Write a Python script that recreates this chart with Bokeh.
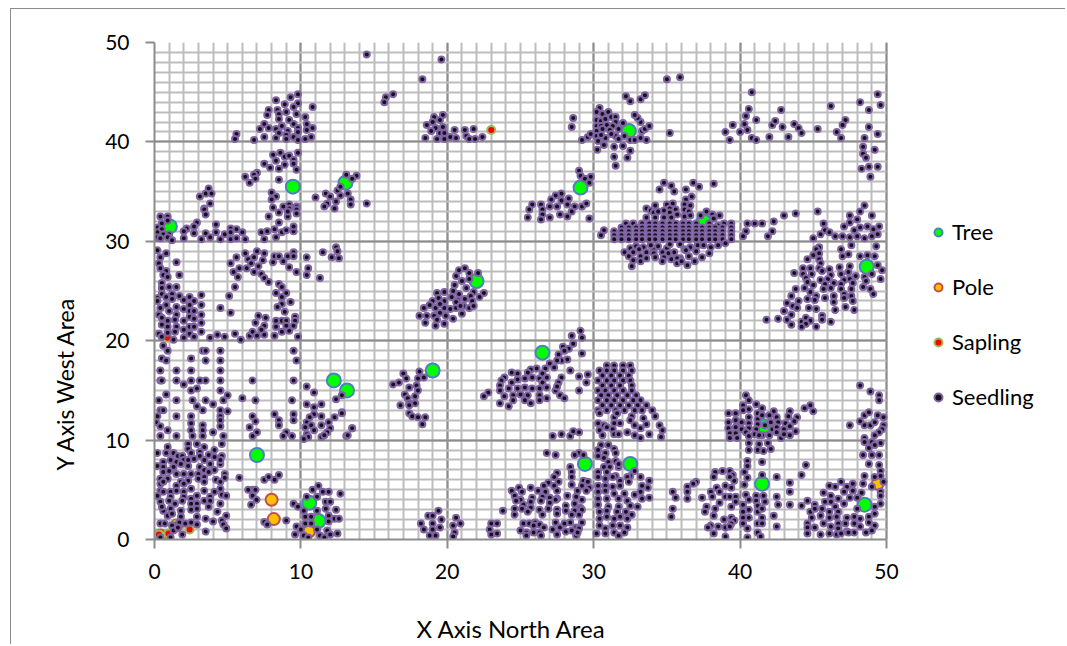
from bokeh.plotting import figure
from bokeh.models import FixedTicker, Legend, LegendItem, Title
from bokeh.embed import file_html
from bokeh.resources import INLINE

x_ticks = [0, 10, 20, 30, 40, 50]
y_ticks = [0, 10, 20, 30, 40, 50]
x_label = "X Axis North Area"
y_label = "Y  Axis West Area"

tree_x = [1.05, 9.45, 13.05, 7.0, 10.57, 11.2, 12.25, 13.15, 19.0, 22.0, 26.5, 29.1, 32.4, 37.5, 29.4, 32.5, 41.6, 41.5, 48.5, 48.65]
tree_y = [31.5, 35.5, 35.9, 8.5, 3.7, 1.85, 16.0, 15.0, 17.0, 26.0, 18.8, 35.4, 41.1, 32.0, 7.6, 7.6, 11.4, 5.6, 3.5, 27.45]
pole_x = [8.0, 8.15, 10.55, 49.4, 0.4, 1.5]
pole_y = [4.0, 2.05, 0.8, 5.6, 0.4, 1.4]
sapling_x = [23.0, 0.9, 2.4, 0.95, 0.3, 1.5]
sapling_y = [41.2, 20.3, 1.0, 0.6, 0.5, 1.5]

seed_nw_top = [(14.5,48.8),(15.8,44.5),(15.7,44.0),(16.3,44.8),(18.3,46.3),(19.6,48.3),
(9.8,44.8),(9.3,44.5),(8.3,44.2),(8.9,43.8),(9.8,43.9),(9.5,43.5),(10.8,43.5),(7.8,43.2),(8.4,43.2),(8.5,42.8),(7.7,42.7),(9.0,43.0),(9.7,42.8),(10.3,42.5),(8.5,42.3),(9.2,42.2),(9.5,41.8),(10.4,41.8),(7.5,41.8),(7.8,41.4),(8.7,41.6),(9.8,41.4),(10.8,41.4),(7.2,41.3),(8.3,41.3),(9.1,41.1),(10.4,41.2),(8.5,40.9),(9.8,41.0),(5.6,40.8),(5.5,40.3),(6.8,40.2),(7.5,40.5),(8.3,40.4),(9.0,40.7),(9.0,40.3),(9.5,40.5),(9.8,40.2),(10.3,40.3),(10.7,40.5),
(9.8,38.9),(8.6,38.9),(8.1,38.7),(8.9,38.5),(9.2,38.6),(9.5,38.2),(8.3,38.1),(7.5,37.8),(8.9,37.7),(9.5,37.8),(7.9,37.4),(8.5,37.3),(9.7,37.2),(7.0,36.9),(6.8,36.7),(6.2,36.5),(6.9,36.3),(6.5,35.9),(8.5,36.2),(8.0,34.9),(8.3,34.5),(8.0,34.2),(8.1,33.4),(8.8,33.5),(9.2,33.7),(9.2,33.3),(9.7,33.5),
(3.7,35.3),(3.5,34.8),(3.9,34.8),(3.1,34.5),(3.8,33.8),(3.4,33.3),
(11.0,34.4),(11.7,34.8),(12.0,34.5),(11.8,33.8),(11.6,33.5),(12.4,34.0),(12.7,34.6),(12.5,35.1),(12.7,35.5),(13.2,34.8),(13.4,34.2),(13.4,33.7),(12.3,33.3),(14.5,33.8),(13.1,36.7),(13.8,36.6),(13.5,36.3)]

seed_w_30 = [(.4,32.5),(.9,32.5),(.9,32.1),(.5,31.8),(.2,31.4),(.5,31.2),(.2,30.9),(.6,30.7),(1,30.7),(.2,30.4),(.4,30.3),(.9,30.4),(1.2,30.1),
(3.4,33.2),(3.5,32.7),(2.9,31.9),(2.7,31.5),(4.2,31.7),(2.2,31.3),(2.0,31),(2.0,30.3),(2.7,30.8),(3.5,30.8),(3.2,30.2),(3.8,30.4),(4.2,30.9),(4.5,30.2),(4.8,30.7),(5.2,31.3),(5.2,30.9),(5.2,30.2),(5.6,31.2),(5.6,30.3),(6.0,30.9),(6.2,30.2),(7.3,30.9),(7.7,31),(7.5,30.2),(8.2,31.2),(8.3,30.4),(8.7,30.9),(9,31.1),(9.5,31),(9.5,31.5),(8.5,31.9),(7.8,32.5),(8.5,32.9),(9.1,32.5),(9.7,33.2),(9.7,32.8),(9.1,33.0)]

seed_w_20 = [(.2,29.1),(.8,28.8),(.4,28.4),(.3,27.8),(.4,27.3),(.8,27.0),(.6,26.6),(.9,26.4),(1.5,27.9),(1.7,26.6),
(.5,25.8),(.5,25.3),(1,25.4),(1.5,25.4),(.5,24.7),(.8,24.4),(.2,24.3),(.2,24),(1.2,24.7),(1.2,24.2),(1.7,24.5),(2,24.1),(2.4,24.4),(2.7,24),(3.2,24.6),(2.4,23.6),(3.2,23.6),(.8,23.6),(.4,23.3),(1,23),(1.5,23.4),(2,23.2),(2.4,23),(2.7,23),(3.2,22.6),(.3,22.6),(.5,22.3),(1.5,22.6),(1.4,22.1),(2.4,22.4),(2.7,22.2),(2,22),(.5,21.6),(.9,22),(1.5,21.4),(.9,21.4),(3.2,21.8),(2,21.1),(2.4,21.4),(2.7,21.4),(3.2,20.9),(.3,20.7),(.9,20.8),(1.4,20.9),(2.4,20.7),(.5,20.4),(1.3,20.1),(2,20.3),(2.7,20.4),(3.8,20.3),(4.3,20.6),(4.8,20.4),(5.5,20.7),(5.9,20.1),(6.5,20.5),(6.7,20.9),(7,20.5),(7.5,20.6),(8.2,20.5),(8.7,20.9),(9.8,20.4),(9.2,21),
(5.1,24.5),(4.5,23.3),(5.2,22.8),(5.5,25.4),(7.1,22.5),(7.6,22.3),(6.9,21.8),(7.5,21.5),(7.3,21.1),(8.3,22),(8.3,21.4),(8.7,22),(9,22),(9.6,22.4),(9.6,22),(8.9,22.9),(9,21.5),(9.5,21.5),
(8.5,25.7),(8.7,25.4),(9,24.8),(8.3,24.8),(8.7,24.4),(8.7,23.7),(8.4,23.4),(9.3,23.9),
(5.2,27.8),(5.6,28.4),(6.2,28.8),(5.8,27.3),(5.4,26.9),(5.7,26.4),(6.4,28.2),(6.6,27.8),(6.3,27.3),(7,29),(6.8,28.4),(7.5,28.8),(7.4,28.1),(7.1,27.5),(6.8,26.9),(7.3,26.7),(7.5,26.3),(7.8,25.9),(8.2,28.5),(8.5,28.5),(8.1,27.9),(8.8,28),(9.1,28.5),(9.5,28.9),(9.5,28.5),(9.2,27.4),(9.7,26.9),(10.4,28.4),(10.5,27.3),(10.4,26.6),(11.3,26.3),(11.5,28.9),(12.1,28.4),(12.4,29.4),(12.6,28.3),(12.5,29)]

seed_w_10 = [(.6,19.5),(.9,19),(.5,18.2),(.8,18),(2.5,18.2),(3.3,19),(3.5,19),(4.5,19),(3.5,18),(4.5,18),(.4,17),(1.5,17),(2.5,17),(4.5,17),(.4,16),(.5,16),(1.5,16),(2,15.6),(2.5,16),(3.1,16),(3.5,16),(4.5,16),(2.5,15),(2.9,15.2),(4.5,15),(.8,14.6),(.3,14),(1.5,14),(2.6,14),(3.5,14),(4,13.6),(4.7,14),(5,14.5),(2.9,13.4),(3.3,13),(4.5,13),(5,12.9),(.4,13),(.6,13),(.2,12.4),(1.5,12.4),(2.5,12.4),(4.5,12.4),(2.5,11.7),(3.3,11.5),(4.5,12),(4.5,11.4),(.1,11.8),(.4,11.4),(.9,11),(2.5,11),(3.3,11),(4,10.8),(.4,10.4),(1.5,10.4),(2.6,10.4),(3.3,10.4),(4.7,10.4),
(9.5,19),(9.7,18),(9.5,16),(6.7,16),(6,14.2),(6.9,14),(9.4,14),(6.7,12.4),(6.9,11.9),(6.5,11.3),(7,10.8),(6.7,10.4),(8.2,12.6),(8.5,12),(8.5,11.5),(9,10.8),(8.8,10.4),(9.4,10.4),(9.5,12.6),(9.5,12),
(10.4,15.4),(10.9,14.8),(10.4,13.6),(10.9,13.3),(11.4,13.6),(10.9,12.6),(10.6,12.3),(10.4,11.8),(11.4,12.4),(11.4,11.5),(11.9,11.8),(12.3,12.3),(12.8,12.8),(10.3,11.3),(10.7,11.5),(10.9,11),(12,11.2),(11.8,10.8),(11.4,10.3),(11.6,10.5),(10.4,10.6),(10.5,10.3),(10.2,10.1),(13.1,10.4),(13.5,11.2),(12.4,14.1),(12.8,14.5)]

seed_sw_dense = [(.9,9.3),(2.3,9.6),(2.9,9.6),(3.4,9.3),(4.6,9.6),(2.3,9.1),(.2,8.7),(.8,8.7),(1.3,8.7),(1.6,8.4),(1.9,8.4),(2.5,8.7),(3.1,8.8),(3.1,8.4),(3.7,8.5),(4.1,9),(4.6,8.4),(.2,7.4),(.6,7.8),(1.1,8),(1.5,7.8),(2,8),(2.3,8),(2.7,8.1),(3.4,8),(4.1,8.3),(4.5,7.6),(.6,7.3),(1.3,7.3),(1.8,7.6),(2.3,7.4),(3.1,7.3),(3.8,7.6),(4.1,7),(4.5,8),
(.6,6.8),(1,6.9),(1.5,6.6),(2,6.6),(2.5,6.6),(3.0,6.6),(3.4,7),(3.7,6.8),(.4,6.1),(.9,6.1),(1.8,5.8),(2.3,5.9),(3,6.1),(3.4,6.3),(.4,5.6),(.6,5.8),(1.5,5.4),(2,5.6),(3.4,5.8),(4.2,6),(4.5,5.8),(4.8,6.6),(4.8,6.2),(5.8,6.2),
(.4,4.9),(1.1,4.8),(1.5,4.9),(2,4.8),(2.5,5.1),(3.4,4.9),(4.5,5.1),(.2,4.4),(.6,4.8),(1.1,4.3),(2,4.3),(2.9,4.4),(4.1,4.8),(3.8,4.3),(4.6,4.5),(4.9,4.4),(.4,3.8),(1,3.9),(1.4,3.6),(1.9,3.9),(2.5,4.1),(2.5,3.6),(2.9,3.6),(3.4,3.9),(3.8,3.9),(4.5,3.6),
(.6,2.9),(1.1,3.1),(1.8,2.9),(2.5,3),(2.9,3.1),(3.7,3.3),(4.3,2.8),(.5,3.3),(.9,2.4),(1.2,2.6),(1.8,2.3),(2.9,2.3),(3.5,2.1),(4,1.8),(4.9,2.4),(4.6,1.9),(4.7,1.5),(.4,1.6),(.7,1.6),(1.2,1.4),(1.7,1.7),(2.5,1.7),(2.9,1.5),(2.1,1.6),(4.9,1.1),(1.3,.9),(1.9,.5),(.4,.2),(1.1,.2),(3.5,.8),(1.6,1.2)]

seed_s_mid = [(9.5,3.6),(9.8,3.3),(10.2,2.9),(10.4,4.3),(10.8,5),(11.2,5.4),(11.5,4.8),(11.9,4.8),(11.1,4.3),(11.7,3.8),(12,3.8),(11.1,2.9),(11.7,3.1),(12.4,3),(12.7,4.6),(11.9,2.4),(12.3,2.1),(12.6,2.1),(11.9,1.8),(10.3,2.3),(10.7,2.3),(10.3,1.6),(10.7,1.6),(9.7,1.3),(10,1),(9.6,.5),(10.2,.4),(10.5,.2),(11.1,1),(11.3,.4),(11.6,.2),(11.8,.9),(12,.5),(12.5,.6),(6.7,5),(6.4,5),(6.9,5),(6.7,4.4),(6.97,4),(6.6,3.5),(7.5,6),(7.8,6.3),(8.2,6),(8.5,6.5),(7.5,1.75),(7.7,1.5),(9,1.9)]

seed_n_mid = [(19.7,42.7),(19.1,42.5),(19.5,42.2),(19,42),(18.6,41.7),(19.2,41.4),(19.7,41.5),(18.9,41.1),(19.5,40.9),(19.8,40.9),(18.5,40.4),(19.3,40.3),(19.8,40.3),(20.2,40.5),(20.6,40.4),(20.5,41.2),(21.2,41.2),(21.8,41.3),(21.3,40.6),(21.5,40.3),(21.9,40.3),(22.4,40.5),
(28.6,42.4),(28.5,41.5),(29.2,40.2),(29.6,40.5),(29.8,40.8),(30.4,43.4),(30.2,43),(30.6,42.8),(31,43),(30.2,42.2),(30.5,42.1),(30.8,42.3),(31.2,42.5),(31.5,42.5),(30.2,41.6),(30.5,41.6),(30.9,41.7),(31.5,42),(31.3,41.6),(32,41.9),(30.2,41.1),(30.6,41.3),(31.1,41.2),(31.7,41.3),(30.2,40.6),(30.8,40.4),(30.5,40.7),(31.5,40.6),(31.2,40.8),(32.1,40.6),(31.7,40.3),(30.3,40.1),(30.25,39.2),(30.7,39.7),(31.4,39.5),(32,39.6),(32.5,39.1),(31.4,38.5),(32.3,38.4),(31.5,37.6),(32.5,40.2),(32.8,40.2),(33.2,40.4),(33.6,40.2),(33.3,41.1),(33.5,41.3),(33.8,41.6),(33.2,42),(33,42.4),(32.8,42.7),(32.2,44.6),(32.5,44.1),(33.2,44.3),(33.5,44.7),(35.2,40.9),(35,46.3),(35.9,46.5),
(29,37.1),(29.1,36.6),(29.4,36.3),(29.8,36.5),(29.7,35.9),(27.8,34.8),(27.4,34.6),(27.1,34.2),(27.8,34.1),(28.3,34.3),(28.2,33.7),(27,33.5),(27.5,33.5),(26.4,33.7),(26.5,33.2),(25.8,33.7),(25.6,33.2),(28.7,33.5),(29.2,33.5),(29.5,33.8),(28.5,33),(27.7,32.7),(28.2,32.5),(26.5,32.7),(27,32.4),(26.4,32.2),(25.5,32.4),(29.7,32.3)]

seed_blob_top = [(34.8,35.9),(35.3,35.6),(34.5,35.2),(35.5,35),(36.3,35.2),(36.8,35.9),(37.2,35.5),(38.2,35.8),(36.7,34.5),(36.3,34.2),(35,33.7),(35.4,33.8),(33.6,33.3),(34.2,33.6),(36.2,33.7),(36.6,33.6),(33.9,33.1),(34.8,33.1),(35.2,33.3),(36.2,33.2),(36.5,33),(34.1,32.9),(34.4,33),(35.2,32.9),(35.6,33.2),(35.7,32.7),(33.6,32.4),(34.2,32.4),(34.8,32.4),(35.3,32.4),(36.2,32.5),(36.6,32.6),(37.3,32.6),(37.7,33),(38.1,32.7),(38.6,32.6),(38.2,32.3),(38.5,31.6),(38.9,31.8),(39.4,31.8),(40.5,31.8),(41,31.8),(40.4,31),(40.2,30.5),(30.7,31.1),(30.5,30.6)]
seed_blob_rows = [(32.2,31.8),(32.7,31.8),(33.3,31.8),(33.8,31.8),(34.2,31.8),(34.7,31.8),(35.2,31.8),(35.6,31.8),(36.1,31.8),(36.5,31.8),(37.0,31.8),(37.9,31.8),
(31.9,31.4),(32.4,31.4),(32.9,31.4),(33.3,31.4),(33.8,31.4),(34.2,31.4),(34.7,31.4),(35.2,31.4),(35.6,31.4),(36.1,31.4),(36.5,31.4),(37.0,31.4),(37.4,31.4),(37.9,31.4),(38.3,31.4),(38.8,31.4),(39.4,31.4),
(31.4,31.0),(31.9,31.0),(32.4,31.0),(32.9,31.0),(33.3,31.0),(33.8,31.0),(34.2,31.0),(34.7,31.0),(35.2,31.0),(35.6,31.0),(36.1,31.0),(36.5,31.0),(37.0,31.0),(37.4,31.0),(37.9,31.0),(38.3,31.0),(38.8,31.0),(39.4,31.0),
(31.4,30.6),(31.9,30.6),(32.4,30.6),(32.9,30.6),(33.3,30.6),(33.8,30.6),(34.2,30.6),(34.7,30.6),(35.2,30.6),(35.6,30.6),(36.1,30.6),(36.5,30.6),(37.0,30.6),(37.4,30.6),(37.9,30.6),(38.3,30.6),(38.8,30.6),(39.4,30.6),
(31.4,30.2),(31.9,30.2),(32.4,30.2),(32.9,30.2),(33.3,30.2),(33.8,30.2),(34.2,30.2),(34.7,30.2),(35.2,30.2),(35.6,30.2),(36.1,30.2),(36.5,30.2),(37.0,30.2),(37.4,30.2),(37.9,30.2),(38.3,30.2),(38.8,30.2),(39.4,30.2)]
seed_blob_low = [(32.5,29.3),(32.9,29.5),(33.4,29.4),(34.1,29.2),(34.4,29.5),(35,29.3),(35.5,28.9),(36.2,29.2),(36.6,29.4),(37.1,29.6),(37.5,29.6),(38,29.4),(38.5,29.6),(39,29.8),(32.1,28.9),(32.7,28.9),(33.1,29.2),(33.6,28.9),(34.1,28.8),(34.7,28.9),(35.1,28.8),(35.9,28.3),(36.3,29.1),(37,29),(37.4,28.4),(37.9,28.8),(32.4,28.5),(33.2,28.5),(33.6,28.3),(34.2,28.4),(34.8,28.4),(35.3,28.2),(35.7,28.3),(36.5,28.5),(32.7,28.1),(33.2,28),(35.7,27.8),(36.4,27.6),(32.6,27.5),(36.9,28),(36,28),(34.7,28),(33.9,29.6),(35.2,29.7),(35.9,29.7)]

seed_center = [(20.8,27.1),(21.2,27.3),(21.5,26.8),(20.6,26.5),(21,26),(22.1,26.8),(21.5,26.2),(20.5,25.6),(21.3,25.3),(19.3,24.8),(19.8,24.9),(20.4,25),(20.8,24.7),(21.8,24.9),(22.5,24.8),(19,24),(19.8,24),(20.3,24.4),(20.7,24.1),(21.2,24.2),(21.6,24.5),(22.2,24.4),(21.7,24),(18.8,23.6),(18.4,23.3),(19.2,23.3),(19.8,23.3),(20.2,23.2),(20.6,23.3),(21.1,23.5),(21.5,23.3),(21.8,23.5),(20.6,23.9),(19.5,22.8),(18.1,22.5),(18.6,22.5),(19.1,22.5),(19.9,22.5),(21,22.7),(19.3,22.1),(20.4,22.2),(18.5,21.8),(19.2,21.5),(19.8,21.7),(19.5,23.7),(19.4,24.3),(20.9,23.5),
(17,16.7),(18.1,16.9),(17.2,16.2),(18,16.2),(18.4,16.3),(16.7,15.8),(16.3,15.6),(17.4,15.3),(17.9,15.5),(18,15),(17.1,14.6),(17.8,14.4),(17.3,14.2),(17.4,13.7),(17.8,13.7),(16.8,13.5),(17.4,13.5),(17.4,12.7),(17.6,12.4),(18,12.3),(18.5,12.3),(18.3,11.6),(12.8,12.7),(13.5,11.2),(13.2,10.5)]

seed_c_25 = [(29.1,21),(28.5,20.5),(29.2,20.3),(28.6,19.7),(28.3,19.2),(29.2,18.7),(27.9,19.4),(28,19),(27.6,18.6),(28.2,18.1),(27.8,18),(27.5,18),(27,17.7),(27.3,17.3),(26.7,17.2),(26.1,17.2),(25.7,17.1),(25.5,16.8),(24.4,16.8),(24.8,16.7),(23.9,16.3),(23.7,16),(24.8,16.1),(24.4,15.8),(23.6,15.5),(25.3,16.2),(25.8,16.3),(26.3,16.2),(26.5,16.7),(26.8,16.3),(28.4,17),(29,16.4),(29.6,16.6),(29.5,15.8),(29,15),(27.8,16.3),(27.6,15.8),(27.4,15),(27.5,15.4),(27.7,14.5),(28,14.2),(23.6,15),(24.2,15.2),(24.8,15.2),(25.3,15.3),(25.8,15.2),(26.3,15.2),(26.8,15.3),(26.5,15.8),(25,14.6),(24.5,14.5),(23.9,14.4),(25.5,14.5),(26.3,14.5),(26.3,14),(26.8,14.2),(22.8,14.8),(22.5,14.4),(23.6,13.7),(24.5,14),(25.3,14),(25.7,13.7),(24.2,13.4),
(27.2,10.4),(27.8,10.6),(28.4,10.4),(28.6,10.9),(29,10.8)]

seed_c_31 = [(30.9,17.5),(31.4,17.5),(32,17.5),(32.5,17.5),(30.4,17),(30.9,17),(31.4,17),(32,17),(32.6,17),(30.6,16.5),(31.2,16.5),(31.8,16.5),(32.4,16.5),(30.3,16),(30.9,16),(31.4,16),(32,16),(32.5,16),(30.6,15.5),(31.2,15.5),(31.8,15.5),(32.6,15.5),(30.3,15),(30.8,15),(31.4,15),(32,15),(32.6,15),(30.5,14.5),(31,14.5),(31.6,14.5),(32.3,14.5),(32.9,14.5),(30.3,14),(30.9,14),(31.4,14),(32,14),(32.7,14),(33.2,14),(30.6,13.5),(31.2,13.5),(31.8,13.5),(32.4,13.5),(33,13.5),(33.6,13.5),(30.3,13),(30.9,13),(31.5,13),(32.1,13),(32.8,13),(33.3,13),(34,13),
(30.4,12.7),(31.4,12.3),(31.6,12.7),(32.6,12.4),(33.4,12.2),(34.2,12.4),(30.3,11.7),(30.7,11.5),(31.4,11.7),(31.8,11.7),(32.5,12),(32.8,11.5),(33.6,11.6),(33.2,11.2),(34.5,11.5),(34.7,11),(30.4,11),(30.9,11.3),(31.3,11.1),(30.6,10.5),(31.4,10.6),(31.7,10.6),(32.3,10.8),(32.8,10.5),(33.2,10.2),(33.8,10.6),(34.6,10.3)]

seed_s_30 = [(30.5,9.5),(31,9.5),(30.3,9),(31.4,9.1),(30.3,8.4),(30.8,8.7),(31.5,8.7),(26.8,8.7),(27.4,8.5),(29,8.7),(28.7,8.5),(29.3,8.5),(30.7,8.2),(31,7.8),(31.5,7.9),
(28.4,7.3),(30.7,7.3),(31.1,7.3),(31.7,7.3),(31.7,7.6),(32.8,6.9),(30.3,6.8),(30.9,6.8),(31.5,6.4),(32.5,6.4),(28.5,6.8),(27.5,6.7),(27.3,6.3),(28.5,6.3),(30.3,6.3),(30.8,6.1),(31.3,6.3),(31.8,5.9),(32.3,6.3),(33.2,6.3),(33.8,5.9),(27.6,5.8),(29.3,5.9),(26.9,5.7),(28.5,5.5),(29.6,5.8),(30.3,5.4),(30.8,5.4),(31.3,5.3),(31.8,5.4),(32.4,5.8),(33.3,5.4),(33.7,5.2),(29.2,5.4),(29.7,5.2),(26.6,5.4),(27.3,5.4),(25.7,5.2),(24.9,5.2),(24.4,4.9),(25.1,4.8),(26.2,4.9),(26.7,4.8),(27.5,4.9),(28.9,4.9),(29.5,4.9),(30.3,4.8),(30.8,4.9),(31.4,4.6),(32.1,4.6),(32.8,4.5),(33.2,4.8),(33.8,4.2),(35.4,4.8),(35.6,4.2),(24.6,4.4),(25.8,4.2),(25,4),(26.5,4.3),(27,4.2),(27.5,4.1),(28.2,4.4),(28.8,4.3),(29.2,4),(30.3,4.1),(30.9,4.1),(31.7,4.1),(32.3,3.9),(33.3,4.1),
(24.7,3.9),(25.2,3.5),(25.7,3.8),(26.4,3.9),(27,3.7),(27.4,4),(28.1,3.4),(28.7,3.6),(29.1,3.2),(30.3,3.5),(31,3.3),(31.7,3.3),(32.5,3.4),(33,3.3),(24.6,3.1),(25.1,3.1),(25.7,3.2),(26.3,3),(26.9,3.1),(27.5,3),(28.1,2.9),(28.7,2.9),(29.2,3),(23.8,2.9),(19.4,2.9),(24.6,2.5),(25.5,2.8),(26.5,2.5),(27.5,2.6),(28.5,2.5),(29,2.5),(30.4,2.8),(30.9,2.9),(31.6,2.8),(32.2,2.8),(32.6,2.5),(35.3,2.3),(35.4,3.1),(30.4,2.1),(30.9,2.3),(31.4,2.1),(31.8,2.3),(32.3,2.1),
(18.7,2.4),(19,2.4),(19.6,2),(20.6,2.2),(18.2,1.6),(19,1.6),(19.5,1.2),(20.9,1.6),(20.4,1.4),(18.4,1),(19,1),(20.5,.7),(18.8,.4),(19.2,.4),(20.4,.3),(23,1.6),(23.4,1.6),(22.9,1),(23,.5),(23.4,.6),
(25,.9),(25.2,1.6),(25.6,1.6),(26,1.7),(26.3,1.5),(26.6,1.2),(25.4,.7),(25.9,.7),(26.3,.7),(26.4,.4),(25.4,.4),(25.9,1.4),(27.2,1),(27.4,1.7),(27.7,1.2),(28,1.6),(28.4,1.7),(28.8,1.2),(29.2,1.7),(27.5,.5),(28.1,.8),(28.5,.9),(29,1.1),(28.8,.4),(28.9,.7),(30.4,1.4),(30.8,1.1),(31.3,1.4),(31.8,1.4),(32.3,1.2),(30.2,.6),(30.8,.6),(31.4,.7),(31.7,.4),(32.1,.7)]

seed_se_upper = [(40.4,14.5),(40.6,14),(40.2,13.5),(41.1,13.6),(41.5,13.2),(40.6,13.1),(40.2,13),(42.3,12.9),(42,12.5),(43.4,12.9),(43.9,12.3),(44.4,13.2),(44.8,13.5),(45,12.9),(39.2,12.7),(39.7,12.7),(40.6,12.3),(41.2,12.7),(41.2,12.1),(41.5,12.5),(42.5,12.3),(43.3,12.4),(43.7,11.9),(39.2,11.8),(39.7,12),(40.1,11.8),(40.6,11.7),(41.2,11.6),(42.1,11.8),(42.6,11.8),(43.1,11.7),(43.4,11.4),(39.2,11.2),(39.7,11.3),(40.1,11.1),(40.6,11.2),(41.1,11.1),(41.7,11.5),(42.2,11.1),(42.5,11.3),(43,11.1),(43.8,10.9),(43.4,10.5),(39.3,10.7),(39.7,10.7),(40.4,10.8),(41,10.6),(41.5,10.5),(42,10.5),(42.5,10.8),(42.8,10.2),(43,10.6),(39.3,10.2),(39.8,10.2),(40.6,10.4),(41.3,10.5),(40.6,9.7),(41.3,9.6),(41.9,9.7),(40.6,9),(41.2,9),(41.6,8.9),(42.1,9.1)]

seed_se_lower = [(41.5,7.8),(40.5,7.9),(40.5,7.4),(40.3,6.8),(44.5,7.5),(44.2,6.5),(38.3,6.8),(38.8,6.9),(39.3,6.9),(39.5,6.5),(38.2,6.3),(39.6,5.9),(39.3,6.3),(40.5,6.2),(41.5,6.5),(42.5,6.3),(37,5.8),(36.8,5.6),(36.4,5.3),(36.4,4.8),(36.4,4.1),(37.4,4.2),(40.3,5.5),(43.4,5.7),(43.4,4.8),(39,5.4),(38.4,5.2),(39.4,5.2),(38.6,4.8),(38,4.8),(38.1,4.3),(39,4.3),(39.3,4.3),(39.7,4.3),(38.6,3.7),(39.4,3.3),(39.7,3.8),(37.7,3.3),(37.6,2.8),(38.3,3.1),(38.2,2.4),
(40.4,4.5),(40.6,4),(40.2,3.5),(40.6,3),(40.2,2.8),(40.6,2.2),(40.2,2.2),(40.2,1.6),(40.5,1.1),(40.5,.2),(41.1,4.4),(41.6,4.4),(41.1,3.9),(41.7,3.8),(41.2,3.4),(41.2,2.8),(41.5,3.1),(41.5,2.2),(41.2,1.6),(41.5,1.6),(41.2,.7),(41.4,.3),(42.3,2.4),(42.5,1.3),(42.5,4.3),(42.6,3.5),(43.4,3.5),(38.9,2),(39.4,2.2),(39.6,1.9),(39.4,1.6),(38.5,1.3),(38,1.4),(37.8,1.2),(39,1.2),(39.3,1.3),(38.2,.6),(39,.3)]

seed_se_right = [(48.2,15.5),(48.9,14.9),(49.5,14.5),(49.5,14),(48.5,12.5),(48.8,12.8),(49.4,12.5),(49.8,12.3),(47.5,11.5),(48.2,11.9),(48.5,11.5),(48.9,11.5),(49.2,11.8),(49.8,11.5),(49.7,11.1),(49.5,10.8),(49.2,10.5),(48.5,10.2),(48.5,9.8),(49,9.8),(49.6,9.7),(48.8,9.2),(49.2,9.5),(48.4,8.5),(49,8.5),(49.5,8.5),(48.8,7.6),(49.5,7.5),(49.6,6.9),(49.2,6.3),(49.6,6.4),(48.5,6.4),(48.4,5.6),(49.8,5.8),(49,5.3),(49.6,4.8),(49.6,4.4),
(46.9,5.8),(46.1,5.4),(46.5,5.3),(47.3,5.3),(47.7,5.6),(47.7,4.9),(48.3,4.7),(45.7,4.7),(46.2,4.4),(47.1,4.8),(47.5,4.2),(48,4.2),(46.7,4.1),(46.2,3.8),(44.6,3.9),(44.2,3.4),(45.1,3.5),(45.8,3.8),(47.1,3.6),(49.6,3.6),(49.2,3.3),(44.8,2.8),(45.1,3.1),(45.6,3.1),(46.5,3.3),(46.1,2.8),(46.7,2.8),(47.3,2.2),(48,3.1),(49.2,2.6),(44.9,2.2),(45.5,2.4),(46.1,2.2),(46.6,2.3),(47.8,2.3),(48.2,2.1),(48.8,2.3),(44.6,1.6),(45.1,1.2),(45.7,1.6),(46.2,1.3),(46.7,1.6),(47.2,1.6),(47.8,1.6),(48.2,1.3),(48.8,1.7),(49.2,1.4),(44.6,1.2),(46.7,1.1),(47.3,.8),(47.8,.7),(48.6,.7),(49,.9),(44.6,.6),(45.5,.5),(46.1,.6),(46.6,.5),(46.9,.6),(47.4,.7)]

seed_e_25 = [(48.5,33.6),(48.2,33),(47.5,32.6),(49,32.6),(48,32.2),(45.3,33),(43.8,32.8),(43,32.6),(42.3,32),(41.5,31.8),(42.2,31),(41.9,30.5),(47.5,31.9),(47.1,31.5),(45.7,31.8),(48.2,31.4),(48.7,31.5),(49.5,31.5),(47.8,31.1),(49.1,31.2),(45.8,31.1),(46.1,30.9),(45.5,30.7),(46.5,30.5),(47,30.5),(47.5,30.4),(48,30.5),(48.5,30.3),(49,30.5),(49.4,30.7),(45,30.3),
(47.6,29.6),(49.3,29.5),(46.9,29.2),(45.4,29.4),(45.2,29.2),(45,28.6),(45.4,28.8),(44.6,28.2),(45.4,28.2),(47,28.5),(47.4,28.7),(48.2,28.5),(48.7,28.6),(49.2,28.5),(45.5,27.8),(45.4,27.3),(44.3,27.3),(44.8,27.3),(46.1,27.2),(46.8,27.4),(47.5,27.5),(49.4,27.6),(49.7,27.1),
(43.7,26.8),(44.3,26.7),(44.9,26.7),(45.6,27),(46.2,26.6),(46.9,26.7),(47.4,26.9),(47.9,26.5),(49,26.7),(48.5,26.4),(49.6,26.2),(44.5,26.3),(45.5,26.1),(46,26.2),(47.1,26.1),(47.5,26.2),(48.6,26),(44.6,25.9),(45,25.6),(45.8,25.7),(46.4,25.8),(47.7,25.8),(46.9,25.7),(44.4,25.3),(43.8,25.2),(45.7,25.2),(46.2,25.3),(46.9,25.2),(47.6,25.2),(48.4,25.4),(48.9,25.2),(49.1,24.7),
(44.8,24.9),(43.5,24.5),(45.2,24.5),(44.6,24.2),(45.1,24.1),(45.8,24.3),(46.4,24.5),(47.1,24.7),(47.6,24.5),(44,24),(47.1,24.3),(46.4,23.9),(47.7,24),(43.2,23.8),(43.6,23.5),(43.9,23.3),(44.7,23.3),(45.2,23.2),(46.5,23.1),(47.2,23.4),(47.8,23.1),(43,23),(43.5,22.6),(43.2,22.1),(42.6,22.2),(41.8,22.1),(43.5,21.6),(44.2,21.9),(44.5,22.3),(44.8,22),(44.5,21.7),(44.2,21.4),(45.2,21.4),(45.6,22.5),(45.6,22.1),(46.2,21.9)]

seed_ne = [(40.8,45),(40.6,43.3),(40.4,42.6),(40.3,41.8),(41.1,42.2),(39.5,41.7),(39,41),(40,41),(40.5,41.2),(39.3,40.2),(40.8,40.4),(41.1,40.2),(42,40.5),(42.2,41.7),(42.4,42.1),(42.9,41.5),(42.8,43.2),(43.3,40.5),(43.7,41.8),(44,41.4),(44.2,40.9),(45.3,41.3),(46.2,43.6),(47.2,42.2),(47,41.7),(46.6,41),(46.9,40.4),(48.2,44),(49.4,44.8),(49.6,43.7),(48.8,43.2),(48.8,41.5),(49.4,40.8),(48.5,40.4),(48.4,39.5),(49.2,39.2),(48.4,38.8),(48.6,38.4),(48.3,37.3),(48.8,37.5),(49.4,37.5),(48.9,36.5)]

seed_clusters = [seed_nw_top, seed_w_30, seed_w_20, seed_w_10, seed_sw_dense, seed_s_mid, seed_n_mid,
                 seed_blob_top, seed_blob_rows, seed_blob_low, seed_center, seed_c_25, seed_c_31, seed_s_30,
                 seed_se_upper, seed_se_lower, seed_se_right, seed_e_25, seed_ne]
seedling_x = [pt[0] for c in seed_clusters for pt in c]
seedling_y = [pt[1] for c in seed_clusters for pt in c]

GRID_MAJOR = "#8c8c8c"
GRID_MINOR = "#bdbdbd"
FONT = "Lato"
AXIS_MAX = 50

# The frame runs on to the right of x=50 so that the legend can sit in it; axis and grid stop at 50.
p = figure(width=1055, height=636, x_range=(0, AXIS_MAX * 897 / 732), y_range=(0, AXIS_MAX),
           output_backend="svg", toolbar_location=None, tools="",
           min_border_left=143, min_border_right=15, min_border_top=33, min_border_bottom=106,
           background_fill_color="white", border_fill_color="white", outline_line_color=None,
           margin=(8, 0, 0, 10),
           styles={"border-top": "1.5px solid #8c8c8c", "border-left": "1.5px solid #8c8c8c"})

minor = list(range(0, 51))
p.xaxis.ticker = FixedTicker(ticks=x_ticks, minor_ticks=minor)
p.yaxis.ticker = FixedTicker(ticks=y_ticks, minor_ticks=minor)
p.xaxis.bounds = (0, AXIS_MAX)
for g in [p.xgrid[0], p.ygrid[0]]:
    g.grid_line_color = GRID_MAJOR
    g.grid_line_width = 2
    g.minor_grid_line_color = GRID_MINOR
    g.minor_grid_line_width = 2
    g.level = "underlay"
p.xgrid[0].bounds = (0, AXIS_MAX)
p.ygrid[0].cross_bounds = (0, AXIS_MAX)

for ax in [p.xaxis[0], p.yaxis[0]]:
    ax.axis_line_color = GRID_MAJOR
    ax.axis_line_width = 2
    ax.major_tick_line_color = GRID_MAJOR
    ax.major_tick_line_width = 2
    ax.major_tick_in = 0
    ax.major_tick_out = 9
    ax.minor_tick_line_color = None
    ax.major_label_text_font = FONT
    ax.major_label_text_font_size = "21px"
    ax.major_label_text_color = "black"

p.xaxis.major_label_standoff = 15
p.yaxis.major_label_standoff = 16

# A blank title under the axis pushes the x label down to its place.
x_spacer = Title(text=" ", standoff=10, text_font=FONT, text_font_size="12px", text_font_style="normal")
x_title = Title(text=x_label, align="left", offset=262, standoff=6, text_font=FONT,
                text_font_size="24px", text_font_style="normal", text_color="black")
y_title = Title(text=y_label, align="left", offset=69, standoff=48, text_font=FONT,
                text_font_size="23px", text_font_style="normal", text_color="black")
p.add_layout(x_spacer, "below")
p.add_layout(x_title, "below")
p.add_layout(y_title, "left")

r_tree = p.scatter(tree_x, tree_y, size=14, fill_color="#00ff00", line_color="#4f81bd", line_width=2)
r_pole = p.scatter(pole_x, pole_y, size=12, fill_color="#ffc000", line_color="#c0504d", line_width=2)
r_sap = p.scatter(sapling_x, sapling_y, size=8, fill_color="#ff0000", line_color="#9bbb59", line_width=2)
r_seed = p.scatter(seedling_x, seedling_y, size=6, fill_color="#14101e", line_color="#8064a2", line_width=2)

legend = Legend(items=[LegendItem(label="Tree", renderers=[r_tree]),
                       LegendItem(label="Pole", renderers=[r_pole]),
                       LegendItem(label="Sapling", renderers=[r_sap]),
                       LegendItem(label="Seedling", renderers=[r_seed])],
                location=(774, 129), orientation="vertical", spacing=28,
                glyph_width=20, glyph_height=20, label_standoff=4,
                padding=0, margin=0,
                background_fill_alpha=0, border_line_color=None,
                label_text_font=FONT, label_text_font_size="22px", label_text_color="black")
p.add_layout(legend, "center")

open("out.html", "w").write(file_html(p, INLINE))
